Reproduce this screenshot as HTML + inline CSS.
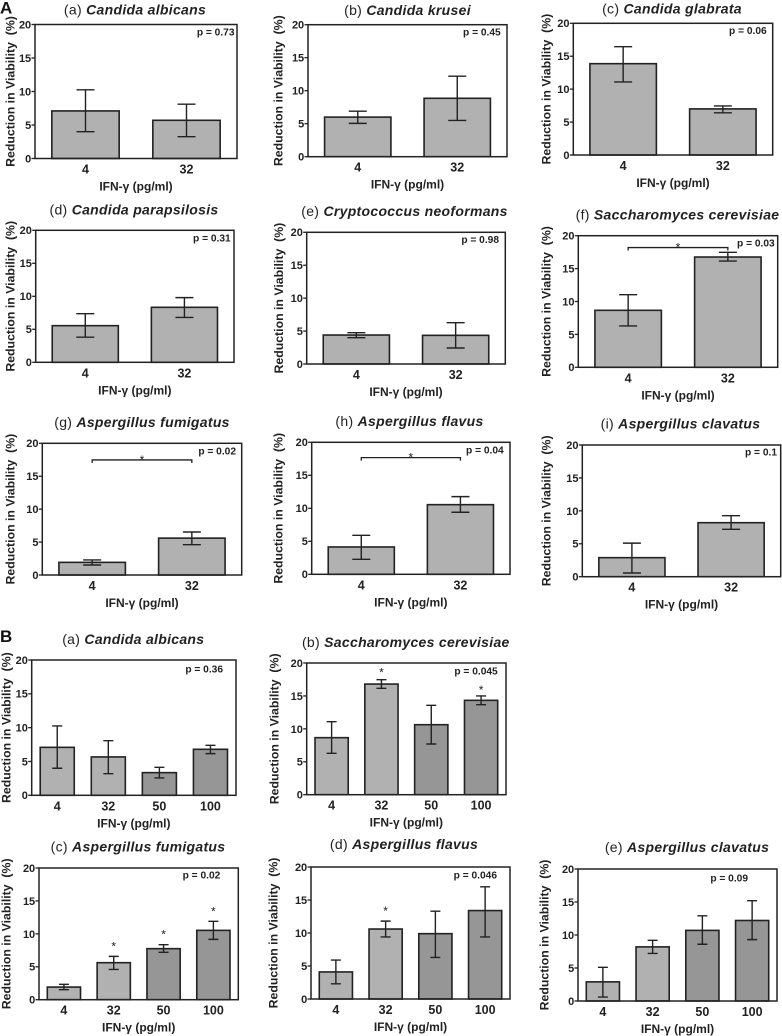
<!DOCTYPE html>
<html lang="en">
<head>
<meta charset="utf-8">
<title>Reduction in viability by IFN-γ dose</title>
<style>
html,body{margin:0;padding:0;background:#fff;}
#figure{display:block;width:782px;height:1036px;font-family:"Liberation Sans",Arial,sans-serif;}
text{fill:#222;font-family:"Liberation Sans",Arial,sans-serif;}
</style>
</head>
<body>
<svg id="figure" xmlns="http://www.w3.org/2000/svg" width="782" height="1036" viewBox="0 0 782 1036">
  <text x="0" y="13.5" font-size="17" font-weight="bold" style="fill:#111">A</text>
  <text x="0" y="642" font-size="17" font-weight="bold" style="fill:#111">B</text>
</svg>
<script>
// ---- shared axis data ----
const dosesTwo = ['4', '32'];
const dosesFour = ['4', '32', '50', '100'];
const yTicks = [0, 5, 10, 15, 20];
const yMax = 20;

// ---- section A values ----
const aaValues = [7.1, 5.7];   const aaUpper = [10.25, 8.1];  const aaLower = [4.0, 3.25];
const abValues = [6.0, 8.85];  const abUpper = [6.9, 12.2];   const abLower = [5.05, 5.5];
const acValues = [13.87, 7.0]; const acUpper = [16.45, 7.45]; const acLower = [11.1, 6.4];
const adValues = [5.55, 8.33]; const adUpper = [7.37, 9.8];   const adLower = [3.8, 6.8];
const aeValues = [4.4, 4.35];  const aeUpper = [4.76, 6.28];  const aeLower = [4.0, 2.43];
const afValues = [8.66, 16.76]; const afUpper = [11.04, 17.47]; const afLower = [6.28, 16.15];
const agValues = [1.92, 5.6];  const agUpper = [2.28, 6.53];  const agLower = [1.52, 4.6];
const ahValues = [4.14, 10.55]; const ahUpper = [5.9, 11.77]; const ahLower = [2.27, 9.4];
const aiValues = [2.89, 8.2];  const aiUpper = [5.1, 9.27];   const aiLower = [0.56, 7.19];
const afBracket = [18.2];
const agBracket = [17.47];
const ahBracket = [17.68];

// ---- section B values ----
const baValues = [7.09, 5.67, 3.35, 6.8];    const baUpper = [10.25, 8.08, 4.14, 7.39];  const baLower = [4.0, 3.2, 2.56, 6.16];
const bbValues = [8.66, 16.8, 10.63, 14.33]; const bbUpper = [11.09, 17.47, 13.57, 15.0]; const bbLower = [6.28, 16.15, 7.7, 13.67];
const bcValues = [1.92, 5.62, 7.75, 10.53];  const bcUpper = [2.33, 6.58, 8.35, 11.9];   const bcLower = [1.52, 4.6, 7.19, 9.16];
const bdValues = [4.1, 10.6, 9.9, 13.4];     const bdUpper = [5.9, 11.8, 13.3, 17.0];    const bdLower = [2.3, 9.4, 6.3, 9.4];
const beValues = [2.9, 8.2, 10.7, 12.2];     const beUpper = [5.1, 9.2, 12.9, 15.2];     const beLower = [0.6, 7.2, 8.6, 9.3];
const bbStars = [null, 19.0, null, 16.35];
const bcStars = [null, 8.56, 10.38, 13.87];
const bdStars = [null, 13.8, null, null];

// ---- panel layout (frame geometry and labels) ----
const panels = [
 {id:'a-a', tag:'(a)', name:'Candida albicans', p:'p = 0.73', cats:dosesTwo, v:aaValues, hi:aaUpper, lo:aaLower, L:35, R:237, T:24.5, B:158.5, tx:135, ty:9.5, px:234.5, py:32, yx:10},
 {id:'a-b', tag:'(b)', name:'Candida krusei', p:'p = 0.45', cats:dosesTwo, v:abValues, hi:abUpper, lo:abLower, L:308, R:507, T:24.7, B:156.7, tx:407.5, ty:10, px:500.7, py:32, yx:278},
 {id:'a-c', tag:'(c)', name:'Candida glabrata', p:'p = 0.06', cats:dosesTwo, v:acValues, hi:acUpper, lo:acLower, L:573.3, R:772.7, T:23.3, B:155, tx:672, ty:8.5, px:766.7, py:30.5, yx:546},
 {id:'a-d', tag:'(d)', name:'Candida parapsilosis', p:'p = 0.31', cats:dosesTwo, v:adValues, hi:adUpper, lo:adLower, L:35.7, R:234, T:230.3, B:362.3, tx:134, ty:209.5, px:230.7, py:238, yx:10},
 {id:'a-e', tag:'(e)', name:'Cryptococcus neoformans', p:'p = 0.98', cats:dosesTwo, v:aeValues, hi:aeUpper, lo:aeLower, L:306.7, R:505.3, T:232.3, B:364, tx:404.5, ty:211, px:499, py:239.5, yx:278.3},
 {id:'a-f', tag:'(f)', name:'Saccharomyces cerevisiae', p:'p = 0.03', cats:dosesTwo, v:afValues, hi:afUpper, lo:afLower, L:578.3, R:777.7, T:235.7, B:367.3, tx:677.5, ty:214.7, px:774.7, py:243, yx:546, bracket:afBracket},
 {id:'a-g', tag:'(g)', name:'Aspergillus fumigatus', p:'p = 0.02', cats:dosesTwo, v:agValues, hi:agUpper, lo:agLower, L:42.3, R:241.7, T:443.3, B:575, tx:142, ty:422, px:236, py:450.7, yx:10, bracket:agBracket},
 {id:'a-h', tag:'(h)', name:'Aspergillus flavus', p:'p = 0.04', cats:dosesTwo, v:ahValues, hi:ahUpper, lo:ahLower, L:311.7, R:510, T:442.3, B:574.3, tx:409.5, ty:421, px:503.7, py:449.7, yx:278, bracket:ahBracket},
 {id:'a-i', tag:'(i)', name:'Aspergillus clavatus', p:'p = 0.1', cats:dosesTwo, v:aiValues, hi:aiUpper, lo:aiLower, L:582.3, R:780.7, T:445, B:576.7, tx:680.5, ty:423.7, px:777, py:452, yx:546},
 {id:'b-a', tag:'(a)', name:'Candida albicans', p:'p = 0.36', cats:dosesFour, v:baValues, hi:baUpper, lo:baLower, L:31.7, R:236, T:660, B:795.3, tx:133.3, ty:639, px:223, py:669, yx:6},
 {id:'b-b', tag:'(b)', name:'Saccharomyces cerevisiae', p:'p = 0.045', cats:dosesFour, v:bbValues, hi:bbUpper, lo:bbLower, L:306.7, R:506, T:663, B:794.7, tx:405.8, ty:642, px:497.7, py:671, yx:274, stars:bbStars},
 {id:'b-c', tag:'(c)', name:'Aspergillus fumigatus', p:'p = 0.02', cats:dosesFour, v:bcValues, hi:bcUpper, lo:bcLower, L:39, R:238.3, T:868, B:999.7, tx:138, ty:846.7, px:220.3, py:875, yx:6, stars:bcStars},
 {id:'b-d', tag:'(d)', name:'Aspergillus flavus', p:'p = 0.046', cats:dosesFour, v:bdValues, hi:bdUpper, lo:bdLower, L:311, R:510, T:867, B:999, tx:404, ty:844, px:497, py:875, yx:273, stars:bdStars},
 {id:'b-e', tag:'(e)', name:'Aspergillus clavatus', p:'p = 0.09', cats:dosesFour, v:beValues, hi:beUpper, lo:beLower, L:578, R:777, T:869, B:1001, tx:687, ty:847, px:748, py:878, yx:544}
];

const INK = '#222';
const svgRoot = document.getElementById('figure');

function make(tag, attrs, parent, content) {
  const node = document.createElementNS('http://www.w3.org/2000/svg', tag);
  Object.keys(attrs).forEach(function (k) { node.setAttribute(k, attrs[k]); });
  if (content !== undefined) node.textContent = content;
  parent.appendChild(node);
  return node;
}

function drawPanel(p) {
  const xBand = (p.R - p.L) / p.cats.length;
  const xCenter = function (i) { return p.L + xBand * (i + 0.5); };
  const yScale = function (val) { return p.B - (val / yMax) * (p.B - p.T); };
  const barW = xBand * 2 / 3;
  const capW = p.cats.length === 2 ? 18 : 10;
  const midX = (p.L + p.R) / 2;
  const midY = (p.T + p.B) / 2;

  const g = make('g', {}, svgRoot);
  
  

  const title = make('text', {x: p.tx, y: p.ty + 5, 'text-anchor': 'middle', 'font-size': 14, 'letter-spacing': 0.3}, g);
  
  
  make('tspan', {}, title, p.tag + ' ');
  make('tspan', {'font-style': 'italic', 'font-weight': 'bold'}, title, p.name);

  p.v.forEach(function (val, i) {
    const shade = (p.cats.length === 4 && i >= 2) ? '#969696' : '#b1b1b1';
    const bar = make('rect', {x: xCenter(i) - barW / 2, y: yScale(val), width: barW, height: p.B - yScale(val), fill: shade, stroke: INK, 'stroke-width': 1.6}, g);
    
    

    const cx = xCenter(i);
    const err = make('path', {
      d: 'M' + cx + ' ' + yScale(p.lo[i]) + 'V' + yScale(p.hi[i]) +
         'M' + (cx - capW / 2) + ' ' + yScale(p.hi[i]) + 'H' + (cx + capW / 2) +
         'M' + (cx - capW / 2) + ' ' + yScale(p.lo[i]) + 'H' + (cx + capW / 2),
      fill: 'none', stroke: INK, 'stroke-width': 1.4}, g);
    
    

    const xLabel = make('text', {x: cx, y: p.B + 15, 'text-anchor': 'middle', 'font-size': 12.5, 'font-weight': 'bold'}, g, p.cats[i]);
    
    
  });

  const frame = make('rect', {x: p.L, y: p.T, width: p.R - p.L, height: p.B - p.T, fill: 'none', stroke: INK, 'stroke-width': 1.5}, g);
  
  

  yTicks.forEach(function (t) {
    const tick = make('line', {x1: p.L - 3.5, x2: p.L, y1: yScale(t), y2: yScale(t), stroke: INK, 'stroke-width': 1.3}, g);
    
    
    const label = make('text', {x: p.L - 3.8, y: yScale(t) + 3.9, 'text-anchor': 'end', 'font-size': 11, 'font-weight': 'bold'}, g, String(t));
    
    
  });

  const yTitle = make('text', {x: 0, y: 0, transform: 'translate(' + (p.yx + 4.5) + ' ' + midY + ') rotate(-90)', 'text-anchor': 'middle', 'font-size': 12.3, 'font-weight': 'bold', style: 'white-space:pre'}, g, 'Reduction in Viability  (%)');
  
  

  const xTitle = make('text', {x: midX, y: p.B + 32, 'text-anchor': 'middle', 'font-size': 12, 'font-weight': 'bold'}, g, 'IFN-γ (pg/ml)');
  
  

  const pText = make('text', {x: p.px, y: p.py + 3.6, 'text-anchor': 'end', 'font-size': 10.2, 'font-weight': 'bold'}, g, p.p);
  
  

  if (p.bracket) {
    const by = yScale(p.bracket[0]);
    const br = make('path', {d: 'M' + xCenter(0) + ' ' + (by + 3) + 'V' + by + 'H' + xCenter(1) + 'V' + (by + 3), fill: 'none', stroke: INK, 'stroke-width': 1.3}, g);
    
    
    const bs = make('text', {x: midX, y: by + 4, 'text-anchor': 'middle', 'font-size': 12}, g, '*');
    
    
  }

  if (p.stars) {
    p.stars.forEach(function (s, i) {
      if (s === null) return;
      const star = make('text', {x: xCenter(i), y: yScale(s) + 7, 'text-anchor': 'middle', 'font-size': 12}, g, '*');
      
      
    });
  }
}

panels.forEach(drawPanel);
</script>
</body>
</html>
